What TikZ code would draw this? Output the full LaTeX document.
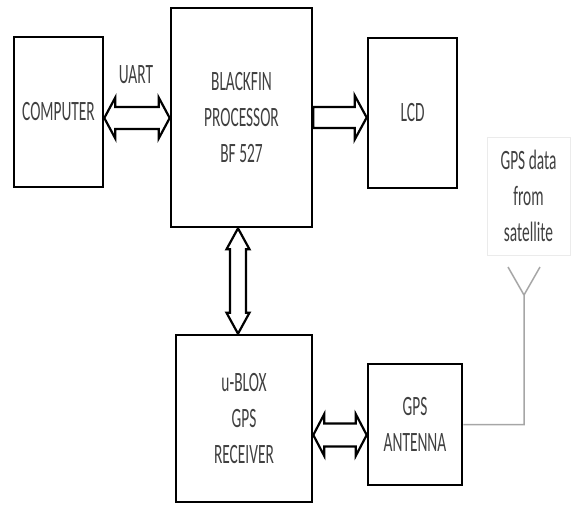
\documentclass[tikz,border=0pt]{standalone}
\usepackage{fontspec}
\setmainfont{Carlito}[FakeStretch=0.55]
\usetikzlibrary{positioning}

\begin{document}
\begin{tikzpicture}[x=1pt, y=-1pt,
    box/.style={draw, line width=2.6pt, inner sep=0pt, align=center,
                text=black!75, font=\fontsize{28}{36}\selectfont},
    lbl/.style={text=black!75, font=\fontsize{28}{36}\selectfont, align=center},
    bus/.style n args={3}{draw, line width=2.2pt, fill=white, line join=miter, to path={
        -- ++(#3,#2) -- ++(0,#1-#2) -- ([xshift=-#3,yshift=#1]\tikztotarget) -- ++(0,#2-#1)
        -- (\tikztotarget) -- ++(-#3,-#2) -- ++(0,#2-#1)
        -- ([xshift=#3,yshift=-#1]\tikztostart) -- ++(0,#1-#2) -- cycle}},
    busone/.style n args={3}{draw, line width=2.2pt, fill=white, line join=miter, to path={
        -- ++(0,#1) -- ([xshift=-#3,yshift=#1]\tikztotarget) -- ++(0,#2-#1)
        -- (\tikztotarget) -- ++(-#3,-#2) -- ++(0,#2-#1)
        -- ([yshift=-#1]\tikztostart) -- cycle}},
    vbus/.style n args={3}{draw, line width=2.2pt, fill=white, line join=miter, to path={
        -- ++(#2,-#3) -- ++(#1-#2,0) -- ([xshift=#1,yshift=#3]\tikztotarget) -- ++(#2-#1,0)
        -- (\tikztotarget) -- ++(-#2,#3) -- ++(#2-#1,0)
        -- ([xshift=-#1,yshift=-#3]\tikztostart) -- ++(#1-#2,0) -- cycle}},
    antline/.style={draw=black!35, line width=1.5pt}
]
    \useasboundingbox (0,0) rectangle (571,504);

    \node[box, minimum width=89pt, minimum height=150pt] (comp) at (58.5,112) {COMPUTER};
    \node[box, minimum width=141pt, minimum height=219pt] (proc) at (241.5,117.5) {BLACKFIN\\PROCESSOR\\BF 527};
    \node[box, minimum width=89pt, minimum height=150pt] (lcd) at (412.5,113) {LCD};
    \node[box, minimum width=136pt, minimum height=167pt] (rcv) at (244,418.5) {u-BLOX\\GPS\\RECEIVER};
    \node[box, minimum width=94pt, minimum height=121pt] (ant) at (415,424.5) {GPS\\ANTENNA};
    \node[lbl, draw=black!8, minimum width=83pt, minimum height=118pt] (sat) at (528.5,196) {GPS data\\from\\satellite};
    \node[lbl] (uart) at (136,75) {UART};
    \coordinate (mast) at (524,295);

    \draw[bus={11pt}{20.5pt}{11pt}] ([yshift=-6pt]comp.east) to ([yshift=-6pt]comp.east -| proc.west);
    \draw[busone={10.5pt}{22pt}{12pt}] (proc.east) to (proc.east -| lcd.west);
    \draw[vbus={8pt}{11.5pt}{21pt}] ([xshift=-3.5pt]proc.south) to ([xshift=-3.5pt]proc.south |- rcv.north);
    \draw[bus={11.5pt}{21pt}{11pt}] ([yshift=-10.5pt]ant.west -| rcv.east) to ([yshift=-10.5pt]ant.west);
    \draw[antline] (ant.east) -| (mast) -- +(-16,-28) (mast) -- +(16,-28);
\end{tikzpicture}
\end{document}
